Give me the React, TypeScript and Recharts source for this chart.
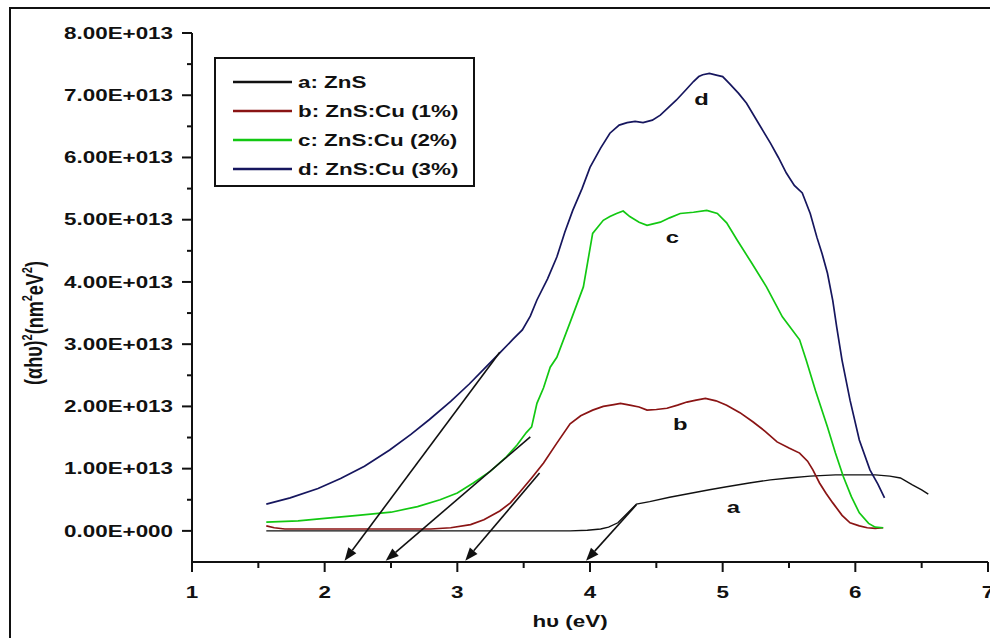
import React from 'react';
import { LineChart, Line, XAxis, YAxis, ReferenceLine, ReferenceDot } from 'recharts';

// absorption coefficient plot, (αhυ)² against photon energy hυ
const SCALE = 1e13;

// a: ZnS
const aX = [1.56, 2.0, 2.5, 3.0, 3.5, 3.85, 3.98, 4.08, 4.14, 4.21, 4.28, 4.35, 4.45, 4.6, 4.75, 4.9, 5.03, 5.2, 5.36, 5.5, 5.66, 5.85, 6.03, 6.15, 6.26, 6.34, 6.43, 6.5, 6.55];
const aY = [0, 0, 0, 0, 0, 0, 0.01, 0.03, 0.06, 0.13, 0.28, 0.43, 0.47, 0.54, 0.6, 0.66, 0.71, 0.77, 0.82, 0.85, 0.88, 0.9, 0.9, 0.9, 0.88, 0.85, 0.74, 0.66, 0.59];

// b: ZnS:Cu (1%)
const bX = [1.56, 1.62, 1.7, 2.0, 2.4, 2.8, 2.95, 3.1, 3.2, 3.32, 3.4, 3.47, 3.56, 3.65, 3.75, 3.85, 3.93, 4.02, 4.1, 4.18, 4.23, 4.3, 4.37, 4.43, 4.5, 4.58, 4.66, 4.73, 4.8, 4.87, 4.95, 5.03, 5.13, 5.23, 5.32, 5.41, 5.5, 5.58, 5.64, 5.68, 5.73, 5.78, 5.83, 5.9, 5.96, 6.03, 6.09, 6.15, 6.21];
const bY = [0.08, 0.05, 0.03, 0.03, 0.03, 0.03, 0.05, 0.1, 0.18, 0.32, 0.45, 0.62, 0.85, 1.09, 1.41, 1.72, 1.85, 1.94, 2.0, 2.03, 2.05, 2.02, 1.99, 1.94, 1.95, 1.97, 2.02, 2.07, 2.1, 2.13, 2.09, 2.02, 1.9, 1.75, 1.6, 1.43, 1.33, 1.25, 1.12, 0.98, 0.77, 0.6, 0.45, 0.25, 0.13, 0.08, 0.05, 0.04, 0.05];

// c: ZnS:Cu (2%)
const cX = [1.56, 1.8, 2.0, 2.25, 2.5, 2.7, 2.87, 3.0, 3.12, 3.25, 3.37, 3.45, 3.52, 3.56, 3.6, 3.65, 3.7, 3.75, 3.85, 3.95, 4.02, 4.1, 4.15, 4.2, 4.25, 4.3, 4.37, 4.43, 4.53, 4.6, 4.68, 4.78, 4.88, 4.96, 5.03, 5.11, 5.22, 5.33, 5.45, 5.58, 5.63, 5.7, 5.79, 5.85, 5.91, 5.97, 6.03, 6.1, 6.15, 6.21];
const cY = [0.14, 0.16, 0.2, 0.25, 0.3, 0.39, 0.5, 0.61, 0.77, 0.96, 1.19, 1.38, 1.58, 1.67, 2.05, 2.3, 2.63, 2.79, 3.35, 3.92, 4.78, 4.99, 5.05, 5.1, 5.14, 5.05, 4.96, 4.91, 4.96, 5.03, 5.1, 5.12, 5.15, 5.1, 4.95, 4.67, 4.3, 3.92, 3.44, 3.07, 2.74, 2.25, 1.67, 1.25, 0.87, 0.55, 0.29, 0.12, 0.06, 0.05];

// d: ZnS:Cu (3%)
const dX = [1.56, 1.74, 1.95, 2.12, 2.3, 2.49, 2.65, 2.79, 2.95, 3.09, 3.2, 3.32, 3.42, 3.49, 3.55, 3.6, 3.68, 3.75, 3.81, 3.87, 3.94, 4.0, 4.08, 4.15, 4.22, 4.28, 4.34, 4.4, 4.47, 4.53, 4.59, 4.65, 4.72, 4.78, 4.82, 4.85, 4.9, 4.96, 5.0, 5.05, 5.12, 5.18, 5.27, 5.36, 5.42, 5.48, 5.54, 5.6, 5.66, 5.71, 5.75, 5.79, 5.83, 5.86, 5.9, 5.96, 6.03, 6.11, 6.17, 6.22];
const dY = [0.43, 0.53, 0.68, 0.84, 1.04, 1.3, 1.55, 1.79, 2.08, 2.36, 2.6, 2.86, 3.08, 3.23, 3.45, 3.71, 4.05, 4.4, 4.8, 5.15, 5.5, 5.84, 6.15, 6.39, 6.52, 6.56, 6.58, 6.56, 6.6, 6.68, 6.8, 6.92, 7.08, 7.22, 7.3, 7.33, 7.35, 7.32, 7.3, 7.19, 7.03, 6.87, 6.55, 6.23, 6.0, 5.75, 5.55, 5.43, 5.1, 4.72, 4.45, 4.14, 3.7, 3.27, 2.74, 2.1, 1.46, 0.98, 0.75, 0.53];

const seriesNames = ['a: ZnS', 'b: ZnS:Cu (1%)', 'c: ZnS:Cu (2%)', 'd: ZnS:Cu (3%)'];
const seriesX = [aX, bX, cX, dX];
const seriesY = [aY, bY, cY, dY];
const colors = ['#111111', '#8a1414', '#12c812', '#16165e'];

// curve letters, placed in data units
const letters = ['a', 'b', 'c', 'd'];
const letterX = [5.08, 4.68, 4.62, 4.84];
const letterY = [0.38, 1.72, 4.72, 6.95];

// tangent extrapolations down to the energy axis (band gap)
const tangentFromX = [3.32, 3.55, 3.62, 4.35];
const tangentFromY = [2.87, 1.51, 0.93, 0.42];
const gapX = [2.15, 2.46, 3.06, 3.97];
const arrowBaseY = -0.48;

const xTicks = [1, 1.5, 2, 2.5, 3, 3.5, 4, 4.5, 5, 5.5, 6, 6.5, 7];
const yTicks = [0, 0.5, 1, 1.5, 2, 2.5, 3, 3.5, 4, 4.5, 5, 5.5, 6, 6.5, 7, 7.5, 8];

const FONT = '"Liberation Sans", Arial, sans-serif';
const STRETCH = 1.4;

const toPoints = (xs: number[], ys: number[]) => xs.map((x, i) => ({ x, y: ys[i] * SCALE }));

const fmtY = (v: number) => (v === 0 ? '0.00E+000' : `${(v / SCALE).toFixed(2)}E+013`);

const WideText = ({ x, y, anchor = 'middle', size = 16, children }: any) => (
  <g transform={`translate(${x},${y}) scale(${STRETCH},1)`}>
    <text x={0} y={0} textAnchor={anchor} dominantBaseline="central" fontFamily={FONT} fontWeight="bold" fontSize={size} fill="#111">
      {children}
    </text>
  </g>
);

const YTick = (props: any) => {
  const { x, y, payload } = props;
  const major = Number.isInteger(payload.value / SCALE);
  return (
    <g>
      <line x1={x - (major ? 10 : 5)} x2={x} y1={y} y2={y} stroke="#111" strokeWidth={2} />
      {major && <WideText x={x - 19} y={y} anchor="end">{fmtY(payload.value)}</WideText>}
    </g>
  );
};

const XTick = (props: any) => {
  const { x, y, payload } = props;
  const major = Number.isInteger(payload.value);
  return (
    <g>
      <line x1={x} x2={x} y1={y} y2={y + (major ? 10 : 6)} stroke="#111" strokeWidth={2} />
      {major && <WideText x={x} y={y + 30}>{payload.value}</WideText>}
    </g>
  );
};

const Arrow = (props: any) => {
  const { x1, y1, x2, y2 } = props;
  const ang = Math.atan2(y2 - y1, x2 - x1);
  const len = 13;
  const half = 5;
  const bx = x2 - len * Math.cos(ang);
  const by = y2 - len * Math.sin(ang);
  const px = -Math.sin(ang) * half;
  const py = Math.cos(ang) * half;
  return (
    <g>
      <line x1={x1} y1={y1} x2={bx} y2={by} stroke="#111" strokeWidth={1.6} />
      <polygon points={`${x2},${y2} ${bx + px},${by + py} ${bx - px},${by - py}`} fill="#111" />
    </g>
  );
};

const LegendBox = () => (
  <div style={{ position: 'absolute', left: 214, top: 57, width: 257, height: 126, border: '2px solid #111', background: '#fff' }}>
    <svg width={257} height={126}>
      {seriesNames.map((name, i) => {
        const ry = 23 + i * 29;
        return (
          <g key={name}>
            <line x1={17} x2={76} y1={ry} y2={ry} stroke={colors[i]} strokeWidth={2.5} />
            <WideText x={82} y={ry} anchor="start">{name}</WideText>
          </g>
        );
      })}
    </svg>
  </div>
);

export default function App() {
  return (
    <div style={{ position: 'absolute', left: 0, top: 0, width: 990, height: 638, background: '#fff', overflow: 'hidden' }}>
      <div style={{ position: 'absolute', left: 9, top: 7, width: 990, height: 640, borderTop: '2px solid #111', borderLeft: '2px solid #111' }} />
      <div style={{ position: 'absolute', left: 0, top: 0 }}>
        <LineChart width={990} height={638} margin={{ top: 33, right: 2, bottom: 0, left: 0 }}>
          <XAxis
            dataKey="x"
            type="number"
            domain={[1, 7]}
            ticks={xTicks}
            interval={0}
            height={76}
            tickSize={0}
            tickMargin={0}
            tickLine={false}
            tick={<XTick />}
            axisLine={{ stroke: '#111', strokeWidth: 2 }}
            allowDataOverflow
          />
          <YAxis
            type="number"
            domain={[-0.5 * SCALE, 8 * SCALE]}
            ticks={yTicks.map((t) => t * SCALE)}
            interval={0}
            width={192}
            tickSize={0}
            tickMargin={0}
            tickLine={false}
            tick={<YTick />}
            axisLine={{ stroke: '#111', strokeWidth: 2 }}
            allowDataOverflow
          />
          {seriesNames.map((name, i) => (
            <Line
              key={name}
              name={name}
              data={toPoints(seriesX[i], seriesY[i])}
              dataKey="y"
              type="linear"
              stroke={colors[i]}
              strokeWidth={i === 0 ? 1.4 : 1.7}
              dot={false}
              activeDot={false}
              isAnimationActive={false}
            />
          ))}
          {gapX.map((g, i) => (
            <ReferenceLine
              key={`t${i}`}
              segment={[
                { x: tangentFromX[i], y: tangentFromY[i] * SCALE },
                { x: g, y: arrowBaseY * SCALE },
              ]}
              ifOverflow="visible"
              shape={<Arrow />}
            />
          ))}
          {letters.map((l, i) => (
            <ReferenceDot
              key={l}
              x={letterX[i]}
              y={letterY[i] * SCALE}
              r={0}
              ifOverflow="visible"
              shape={(p: any) => <WideText x={p.cx} y={p.cy} size={17}>{l}</WideText>}
            />
          ))}
        </LineChart>
      </div>
      <LegendBox />
      <svg style={{ position: 'absolute', left: 0, top: 0 }} width={990} height={638} pointerEvents="none">
        <WideText x={570} y={621}>hυ (eV)</WideText>
        <g transform="translate(34,323) rotate(-90) scale(1,1.3)">
          <text x={0} y={0} textAnchor="middle" dominantBaseline="central" fontFamily={FONT} fontWeight="bold" fontSize={18} fill="#111">
            (αhυ)<tspan dy={-6} fontSize={11}>2</tspan>
            <tspan dy={6}>(nm</tspan>
            <tspan dy={-6} fontSize={11}>2</tspan>
            <tspan dy={6}>eV</tspan>
            <tspan dy={-6} fontSize={11}>2</tspan>
            <tspan dy={6}>)</tspan>
          </text>
        </g>
      </svg>
    </div>
  );
}
